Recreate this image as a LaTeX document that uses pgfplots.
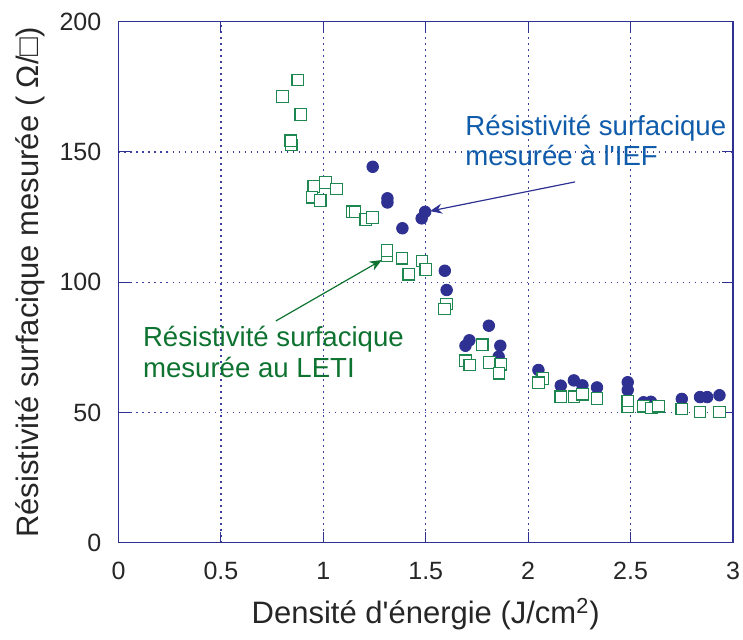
\documentclass[border=0pt]{standalone}
\usepackage{pgfplots}
\pgfplotsset{compat=1.18}
\usepackage{fontspec}
\setmainfont{Liberation Sans}[Ligatures=TeXOff]
\usetikzlibrary{arrows.meta}
\definecolor{navy}{RGB}{46,49,146}
\definecolor{sqgreen}{RGB}{30,135,80}
\definecolor{txtgreen}{RGB}{14,115,48}
\definecolor{txtblue}{RGB}{16,92,170}
\definecolor{gridblue}{RGB}{60,64,160}
\begin{document}
\begin{tikzpicture}
\begin{axis}[
  at={(0,0)}, anchor=south west,
  scale only axis,
  width=307.25pt, height=260.5pt,
  xmin=0, xmax=3, ymin=0, ymax=200,
  xtick={0,0.5,1,1.5,2,2.5,3},
  xticklabels={0,0.5,1,1.5,2,2.5,3},
  ytick={0,50,100,150,200},
  tick pos=both, tick align=inside,
  major tick length=5.5pt,
  axis line style={navy, line width=0.6pt},
  every tick/.style={navy, line width=0.5pt},
  grid=major,
  major grid style={gridblue, line width=0.6pt, dash pattern=on 0.6pt off 2.4pt},
  /pgf/number format/assume math mode=true,
  tick label style={font=\fontsize{12.5}{14}\selectfont, text=black!85},
  xticklabel style={anchor=base, inner sep=0pt, yshift=-18.65pt},
  yticklabel style={anchor=east, inner sep=0pt, xshift=-8.4pt},
  xlabel={Densité d'énergie (J/cm\textsuperscript{2})},
  ylabel={Résistivité surfacique mesurée ( Ω/□)},
  every axis x label/.style={at={(axis description cs:0.5,0)}, anchor=base, yshift=-40.65pt, font=\fontsize{15.5}{18}\selectfont, text=black!85},
  every axis y label/.style={at={(axis description cs:0,0)}, rotate=90, anchor=base west, yshift=39.75pt, xshift=-1pt, font=\fontsize{15.5}{18}\selectfont, text=black!85},
  clip=false,
]
\addplot[only marks, mark=*, mark size=2.9pt, mark options={fill=navy, draw=navy}] coordinates {
(1.241,144.3) (1.313,132.2) (1.313,130.6) (1.386,120.7) (1.497,127.0) (1.480,124.5)
(1.593,104.4) (1.602,97.0) (1.808,83.3) (1.713,77.7) (1.694,75.6) (1.864,75.6)
(1.856,71.4) (2.050,66.3) (2.159,60.3) (2.223,62.3) (2.265,60.4) (2.336,59.6)
(2.486,61.6) (2.486,58.6) (2.563,53.9) (2.599,54.1) (2.750,55.2) (2.839,55.9)
(2.874,55.9) (2.934,56.6)
};
\addplot[only marks, mark=square*, mark size=2.9pt, mark options={fill=white, draw=sqgreen, line width=0.6pt}] coordinates {
(0.875,177.6) (0.800,171.3) (0.890,164.3) (0.843,152.7) (0.841,154.3)
(0.953,136.7) (1.010,138.3) (1.065,135.8) (0.945,132.6) (0.985,131.4)
(1.140,127.0) (1.155,127.0) (1.207,124.1) (1.241,124.8)
(1.311,110.1) (1.311,112.1) (1.384,109.2) (1.417,103.1) (1.482,108.1) (1.500,104.9)
(1.602,91.6) (1.591,89.7) (1.694,69.8) (1.715,68.2) (1.776,76.0) (1.811,69.1)
(1.866,68.5) (1.858,65.1) (2.071,63.0) (2.050,61.4) (2.159,56.0) (2.224,56.0)
(2.266,57.0) (2.336,55.3) (2.486,52.2) (2.486,54.4) (2.564,52.4) (2.602,51.7)
(2.636,52.4) (2.750,51.3) (2.839,50.2) (2.934,50.2)
};
\draw[navy, line width=0.6pt, -{Stealth[length=6pt, width=5pt]}] (axis cs:2.229,138.5) -- (axis cs:1.521,127.3);
\draw[txtgreen, line width=0.6pt, -{Stealth[length=6pt, width=5pt]}] (axis cs:0.768,85.1) -- (axis cs:1.285,108.5);
\node[anchor=base west, inner sep=0pt, align=left, text=txtblue, font=\fontsize{13.8}{15}\selectfont] at (axis cs:1.692,144.9) {Résistivité surfacique\\mesurée à l'IEF};
\node[anchor=base west, inner sep=0pt, align=left, text=txtgreen, font=\fontsize{13.8}{15.5}\selectfont] at (axis cs:0.118,63.3) {Résistivité surfacique\\mesurée au LETI};
\end{axis}
\pgfresetboundingbox
\path[use as bounding box] (-59.25pt,-48.65pt) rectangle (312.25pt,271.35pt);
\end{tikzpicture}
\end{document}
